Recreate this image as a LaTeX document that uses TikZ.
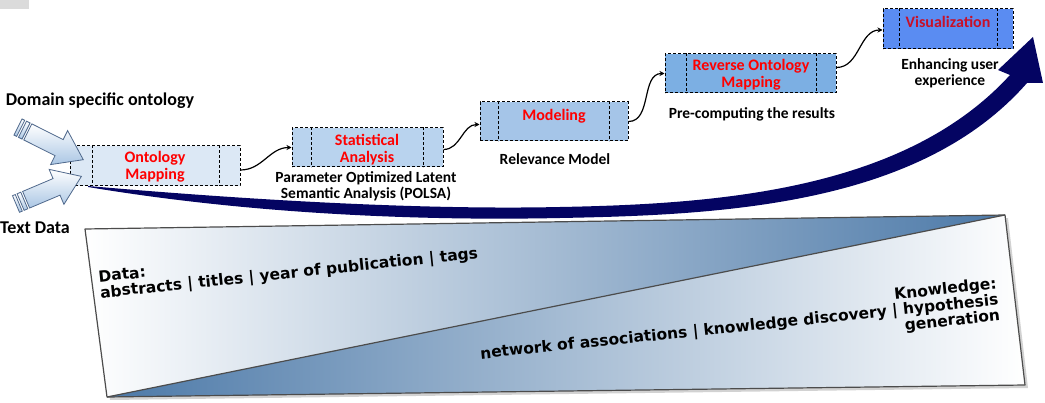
\documentclass[tikz,border=0pt]{standalone}
\usepackage{fontspec}
\setmainfont{Carlito}
\newfontfamily\dejaf{DejaVu Sans}
\usetikzlibrary{arrows.meta,calc}
\definecolor{navy}{RGB}{4,4,98}
\definecolor{cA}{RGB}{220,232,245}
\definecolor{cB}{RGB}{185,211,238}
\definecolor{cC}{RGB}{165,197,232}
\definecolor{cD}{RGB}{124,175,227}
\definecolor{cE}{RGB}{90,140,242}
\definecolor{steel}{RGB}{76,121,168}
\definecolor{arrfill}{RGB}{170,198,228}
\definecolor{arredge}{RGB}{80,105,140}
\definecolor{vred}{RGB}{200,16,40}
\begin{document}
\begin{tikzpicture}[x=1pt,y=-1pt,
  box/.style={draw=black, dash pattern=on 3pt off 2pt, line width=1pt, inner sep=0pt},
  dl/.style={draw=black, dash pattern=on 3pt off 2pt, line width=1pt},
  rlab/.style={text=red, font=\bfseries\fontsize{16}{17}\selectfont, align=center, inner sep=0pt},
  sub/.style={font=\bfseries\fontsize{15.5}{16}\selectfont, align=center, inner sep=0pt},
  big/.style={font=\bfseries\fontsize{18}{20}\selectfont, inner sep=0pt},
  conn/.style={line width=1.2pt, -{Stealth[length=5pt,width=5pt]}},
  btxt/.style={font=\dejaf\bfseries\fontsize{15.5}{16}\selectfont, inner sep=0pt, rotate=6},
  blockarrow/.style={draw=arredge, line width=0.8pt, top color=white, bottom color=arrfill}
]
\useasboundingbox (0,0) rectangle (1045,403);
\fill[gray!28] (0,0) rectangle (29,9);

% bottom panel
\fill[gray!35] (88,232) -- (1008,218) -- (1028,388) -- (110,400) -- cycle;
\shade[left color=white, middle color=steel!20!white, right color=steel] (85,229) -- (1005,215) -- (107,397) -- cycle;
\shade[left color=steel, middle color=steel!45!white, right color=white] (107,397) -- (1005,215) -- (1025,385) -- cycle;
\draw[gray!60!black, line width=1.2pt, line join=round] (85,229) -- (1005,215) -- (1025,385) -- (107,397) -- cycle;
\draw[gray!60!black, line width=1.2pt] (107,397) -- (1005,215);

\node[btxt, anchor=south west, align=left] (datatxt) at (101,302) {Data:\\abstracts | titles | year of publication | tags};
\node[btxt, anchor=south east, align=right] (knowtxt) at (1001,324) {Knowledge:\\network of associations | knowledge discovery | hypothesis\\generation};

% big arrow
\fill[navy] (88,186) .. controls (250,200) and (420,210) .. (560,207)
  .. controls (720,204) and (905,190) .. (1010,75)
  -- (998,70) -- (1033,37) -- (1043,83) -- (1027,83)
  .. controls (920,205) and (725,215) .. (560,218)
  .. controls (420,221) and (250,214) .. (88,187) -- cycle;

% boxes
\node[box, fill=cA, minimum width=170pt, minimum height=40pt] (b1) at (155,166) {};
\node[box, fill=cB, minimum width=151pt, minimum height=39pt] (b2) at (367.5,147.5) {};
\node[box, fill=cC, minimum width=148pt, minimum height=39pt] (b3) at (554,121.5) {};
\node[box, fill=cD, minimum width=171pt, minimum height=39pt] (b4) at (750.5,73.5) {};
\node[box, fill=cE, minimum width=130pt, minimum height=40pt] (b5) at (948,29) {};
\foreach \n/\l/\r in {b1/23/21, b2/20/20, b3/19/19, b4/22/20, b5/17/16}{
  \draw[dl] ($(\n.north west)+(\l,0)$) -- ($(\n.south west)+(\l,0)$);
  \draw[dl] ($(\n.north east)+(-\r,0)$) -- ($(\n.south east)+(-\r,0)$);
}
\node[rlab] (l1) at (155,167) {Ontology\\Mapping};
\node[rlab] (l2) at (367,150) {Statistical\\Analysis};
\node[rlab] (l3) at (554,116) {Modeling};
\node[rlab] (l4) at (751,75) {Reverse Ontology\\Mapping};
\node[rlab, text=vred] (l5) at (948,22) {Visualization};

% connectors
\draw[conn] ($(b1.east)+(0,4)$) to[out=0,in=180] ($(b2.west)+(0,0)$);
\draw[conn] ($(b2.east)+(0,2)$) to[out=0,in=180] ($(b3.west)+(0,3)$);
\draw[conn] ($(b3.east)+(0,0)$) to[out=0,in=180] ($(b4.west)+(0,0)$);
\draw[conn] ($(b4.east)+(0,-6)$) to[out=0,in=180] ($(b5.west)+(0,1)$);

% sub labels
\node[big] (dso) at (100,101) {Domain specific ontology};
\node[big] (td) at (35,228) {Text Data};
\node[sub] (s2) at (366,186) {Parameter Optimized Latent\\Semantic Analysis (POLSA)};
\node[sub] (s3) at (555,159) {Relevance Model};
\node[sub] (s4) at (752,114) {Pre-computing the results};
\node[sub] (s5) at (950,73) {Enhancing user\\experience};

% input block arrows
\begin{scope}[shift={(18,127)}, rotate=-26.6]
  \path[blockarrow] (0,-9) rectangle (3,9);
  \path[blockarrow] (5,-9) rectangle (9,9);
  \path[blockarrow] (11,-9) -- (46,-9) -- (46,-19) -- (73,0) -- (46,19) -- (46,9) -- (11,9) -- cycle;
\end{scope}
\begin{scope}[shift={(16,204)}, rotate=22.9]
  \path[blockarrow] (0,-9) rectangle (3,9);
  \path[blockarrow] (5,-9) rectangle (9,9);
  \path[blockarrow] (11,-9) -- (44,-9) -- (44,-19) -- (71,0) -- (44,19) -- (44,9) -- (11,9) -- cycle;
\end{scope}
\end{tikzpicture}
\end{document}
